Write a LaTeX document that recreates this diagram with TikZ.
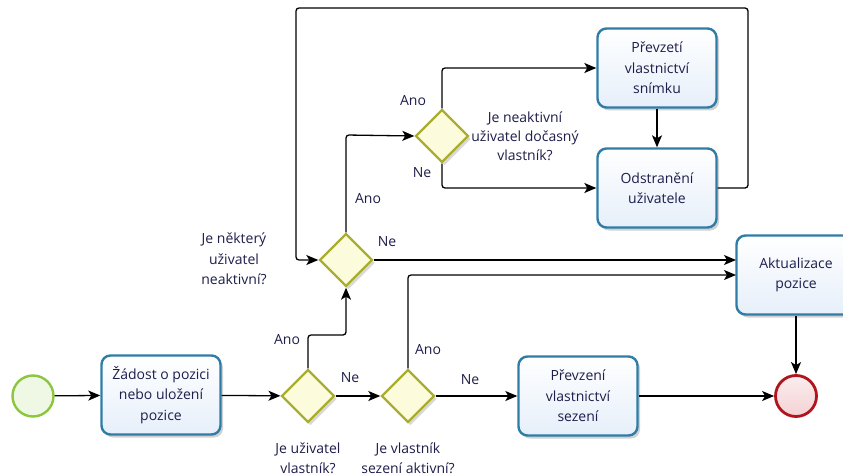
\documentclass[tikz,border=0pt]{standalone}
\usepackage{fontspec}
\setmainfont{Open Sans}
\usetikzlibrary{shapes.geometric,arrows.meta,shadows}
\definecolor{taskline}{HTML}{2F7DA6}
\definecolor{taskfill}{HTML}{E6EFFA}
\definecolor{gwline}{HTML}{A9AE2E}
\definecolor{gwfill}{HTML}{FCFCDC}
\definecolor{startline}{HTML}{8CC63F}
\definecolor{startfill}{HTML}{EFF8E4}
\definecolor{endline}{HTML}{B0141C}
\definecolor{endfill}{HTML}{F4D2D4}
\definecolor{txt}{HTML}{1E1E4C}
\tikzset{
  every node/.style={font=\fontsize{14}{20.5}\selectfont, text=txt},
  task/.style={draw=taskline, line width=2.4pt, rounded corners=9pt,
    top color=white, bottom color=taskfill, minimum width=119pt, minimum height=79pt,
    align=center, inner sep=2pt,
    drop shadow={shadow xshift=2.5pt, shadow yshift=-3pt, opacity=0.18, fill=black}},
  gw/.style={diamond, draw=gwline, line width=2.4pt, fill=gwfill, minimum width=53pt,
    minimum height=53pt, inner sep=0pt,
    drop shadow={shadow xshift=2.5pt, shadow yshift=-3pt, opacity=0.15, fill=black}},
  startev/.style={circle, draw=startline, line width=2.4pt, fill=startfill, minimum size=41pt, inner sep=0pt},
  endev/.style={circle, draw=endline, line width=2.8pt, top color=endfill!40, bottom color=endfill, minimum size=41pt, inner sep=0pt},
  lbl/.style={align=center, inner sep=0pt},
  flow/.style={draw=black, line width=1.3pt, rounded corners=3pt, -{Stealth[length=12pt,width=10pt,inset=3pt]}},
}
\begin{document}
\begin{tikzpicture}[x=1pt,y=-1pt]
\useasboundingbox (0,0) rectangle (843,476);
\clip (0,0) rectangle (843,476);
\fill[white] (0,0) rectangle (843,476);

% events and tasks
\node[startev] (start) at (33,396) {};
\node[task] (t1) at (161,395) {Žádost o pozici\\nebo uložení\\pozice};
\node[gw] (d1) at (308,396) {};
\node[gw] (d2) at (408,396) {};
\node[task] (t2) at (578,396) {Převzení\\vlastnictví\\sezení};
\node[endev] (end) at (796,396) {};
\node[task] (t3) at (796,275) {Aktualizace\\pozice};
\node[gw] (d3) at (346,260) {};
\node[gw] (d4) at (442,136) {};
\node[task] (t4) at (657,68) {Převzetí\\vlastnictví\\snímku};
\node[task] (t5) at (657,188) {Odstranění\\uživatele};

% gateway labels
\node[lbl] (l1) at (308,458) {Je uživatel\\vlastník?};
\node[lbl] (l2) at (408,458) {Je vlastník\\sezení aktivní?};
\node[lbl] (l3) at (234,259) {Je některý\\uživatel\\neaktivní?};
\node[lbl, font=\fontsize{14}{19}\selectfont] (l4) at (525,136) {Je neaktivní\\uživatel dočasný\\vlastník?};

% flow labels
\node[lbl] (a1) at (287,340) {Ano};
\node[lbl] (n1) at (350,378) {Ne};
\node[lbl] (a2) at (428,350) {Ano};
\node[lbl] (n2) at (470,380) {Ne};
\node[lbl] (a3) at (368,199) {Ano};
\node[lbl] (n3) at (387,242) {Ne};
\node[lbl] (a4) at (413,101) {Ano};
\node[lbl] (n4) at (422,173) {Ne};

% connectors
\coordinate (c1) at (308,335);
\coordinate (c2) at (346,335);
\coordinate (c3) at (346,135);
\coordinate (c4) at (442,68);
\coordinate (c5) at (442,188);
\coordinate (c6) at (748,188);
\coordinate (c7) at (748,8);
\coordinate (c8) at (296,8);
\coordinate (c9) at (296,260);
\coordinate (c10) at (408,275);
\coordinate (c11) at (736,275);
\coordinate (c12) at (736,260);

\draw[flow] (start) -- (t1);
\draw[flow] (t1) -- (d1);
\draw[flow] (d1) -- (d2);
\draw[flow] (d2) -- (t2);
\draw[flow] (t2) -- (end);
\draw[flow] (t3.south -| end) -- (end);
\draw[flow] (d1.north) -- (c1) -- (c2) -- (d3.south);
\draw[flow] (d3.north) -- (c3) -- (d4.west);
\draw[flow] (d4.north) -- (c4) -- (t4.west);
\draw[flow] (d4.south) -- (c5) -- (t5.west);
\draw[flow] (t4) -- (t5);
\draw[flow] (t5.east) -- (c6) -- (c7) -- (c8) -- (c9) -- (d3.west);
\draw[flow] (d3.east) -- (c12);
\draw[flow] (d2.north) -- (c10) -- (c11);
\end{tikzpicture}
\end{document}
